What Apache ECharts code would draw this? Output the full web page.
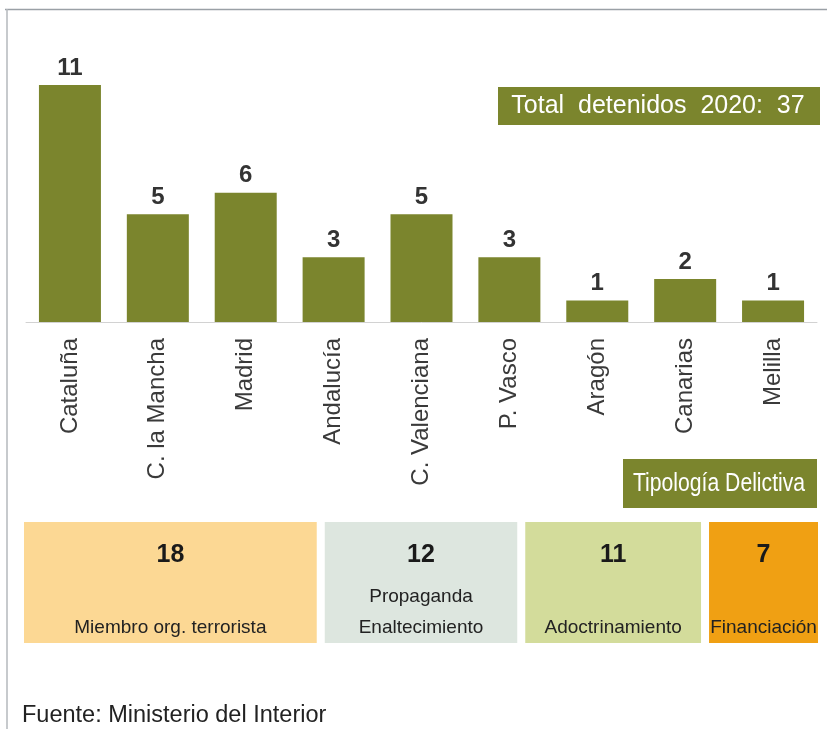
<!DOCTYPE html>
<html>
<head>
    <meta charset="UTF-8">
    <title>Detenidos 2020</title>
    <style type="text/css">
        html, body { margin: 0; padding: 0; background: #fff; }
        #mychart { width: 827px; height: 729px; }
    </style>
</head>
<body>
<div id="mychart"></div>
<script src="https://cdn.jsdelivr.net/npm/echarts@6/dist/echarts.min.js"></script>
<script>
    // detenidos por comunidad
    var regiones = ['Cataluña', 'C. la Mancha', 'Madrid', 'Andalucía', 'C. Valenciana', 'P. Vasco', 'Aragón', 'Canarias', 'Melilla'];
    var detenidos = [11, 5, 6, 3, 5, 3, 1, 2, 1];

    // tipologia delictiva
    var tipos = ['Miembro org. terrorista', 'Propaganda\nEnaltecimiento', 'Adoctrinamiento', 'Financiación'];
    var tiposVal = [18, 12, 11, 7];
    var tiposColor = ['#fcd894', '#dde6df', '#d3dc9b', '#f0a013'];

    var total = 37;
    var olive = '#7b852d';
    var font = 'Liberation Sans, Arial, sans-serif';

    var myChart = echarts.init(document.getElementById('mychart'));

    var tipoSeries = [];
    for (var i = 0; i < tipos.length; i++) {
        var lines = tipos[i].split('\n');
        var txt = lines.length > 1 ? '{n|' + lines[0] + '}\n{n|' + lines[1] + '}' : '{n| }\n{n|' + lines[0] + '}';
        tipoSeries.push({
            name: tipos[i],
            type: 'bar',
            stack: 'tipo',
            xAxisIndex: 1,
            yAxisIndex: 1,
            barWidth: 129,
            data: [tiposVal[i]],
            itemStyle: {color: tiposColor[i], borderColor: '#fff', borderWidth: 4},
            label: {
                show: true,
                position: 'insideTop',
                distance: 17,
                formatter: '{v|' + tiposVal[i] + '}\n{g| }\n' + txt,
                rich: {
                    v: {fontSize: 25, fontWeight: 'bold', color: '#1a1a1a', lineHeight: 40, fontFamily: font},
                    g: {fontSize: 2, lineHeight: 6},
                    n: {fontSize: 19, color: '#222', lineHeight: 31, fontFamily: font}
                }
            },
            silent: true
        });
    }

    var option = {
        animation: false,
        grid: [
            {left: 26, right: 10, top: 85, bottom: 407},
            {left: 20, right: 5, top: 518, height: 129}
        ],
        xAxis: [{
            type: 'category',
            data: regiones,
            axisTick: {show: false},
            axisLine: {lineStyle: {color: '#d2d2d2', width: 1}},
            axisLabel: {
                rotate: 90,
                margin: 16,
                fontSize: 24,
                color: '#3a3a3a',
                fontFamily: font
            }
        }, {
            gridIndex: 1,
            type: 'value',
            min: 0,
            max: 48,
            show: false
        }],
        yAxis: [{
            type: 'value',
            min: 0,
            max: 11,
            show: false,
            splitLine: {show: false}
        }, {
            gridIndex: 1,
            type: 'category',
            data: ['tipologia'],
            show: false
        }],
        series: [{
            name: 'Detenidos',
            type: 'bar',
            data: detenidos,
            barWidth: 62,
            itemStyle: {color: olive},
            label: {
                show: true,
                position: 'top',
                distance: 5,
                fontSize: 24,
                fontWeight: 'bold',
                color: '#333',
                fontFamily: font
            }
        }].concat(tipoSeries),
        graphic: [
            // marco
            {type: 'line', shape: {x1: 5, y1: 9.5, x2: 827, y2: 9.5}, style: {stroke: '#9aa0a6', lineWidth: 1.5}},
            {type: 'line', shape: {x1: 7, y1: 9, x2: 7, y2: 729}, style: {stroke: '#b4b8bd', lineWidth: 1.5}},
            {
                type: 'group', left: 498, top: 87,
                children: [
                    {type: 'rect', shape: {x: 0, y: 0, width: 322, height: 38}, style: {fill: olive}},
                    {type: 'text', x: 160, y: 19, style: {text: 'Total  detenidos  2020:  ' + total, fill: '#fff', font: '25px ' + font, textAlign: 'center', textVerticalAlign: 'middle'}}
                ]
            },
            {
                type: 'group', left: 623, top: 459,
                children: [
                    {type: 'rect', shape: {x: 0, y: 0, width: 194, height: 49}, style: {fill: olive}},
                    {
                        type: 'group', x: 96, y: 25, scaleX: 0.83,
                        children: [
                            {type: 'text', x: 0, y: 0, style: {text: 'Tipología Delictiva', fill: '#fff', font: '25.5px ' + font, textAlign: 'center', textVerticalAlign: 'middle'}}
                        ]
                    }
                ]
            },
            {type: 'text', left: 22, top: 704, style: {text: 'Fuente: Ministerio del Interior', fill: '#222', font: '23.5px ' + font}}
        ]
    };

    myChart.setOption(option);
</script>
</body>
</html>
